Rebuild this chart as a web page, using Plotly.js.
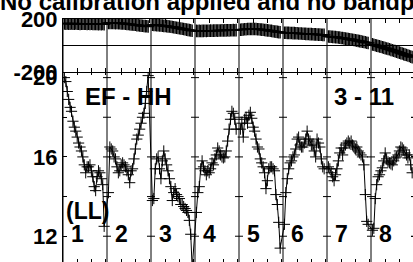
<!DOCTYPE html>
<html><head><meta charset="utf-8">
<script src="https://cdn.plot.ly/plotly-3.0.1.min.js"></script>
<style>
html,body{margin:0;padding:0;overflow:hidden;background:#fff;width:413px;height:262px}
#chart{position:absolute;left:0;top:0}
</style>
</head><body><div id="chart"></div>
<script>
// IF labels and channel layout
const ifLabels = ['1','2','3','4','5','6','7','8'];
const slotWidth = 31;          // channel slots per IF on the x axis
const chanTicks = [10,20,30];  // channel tick marks inside each IF

// Amplitude per IF
const ampIF1 = [20.0,19.8,19.3,18.9,18.5,18.3,17.8,17.5,17.3,17.0,16.7,16.5,16.3,16.0,15.6,15.2,15.5,15.5,15.6,15.3,15.0,14.5,14.3,15.0,15.3,15.2,14.9,14.6,12.5];
const ampIF2 = [14.2,16.5,16.4,16.3,16.0,15.9,15.5,15.2,15.3,15.6,15.7,15.6,15.5,15.3,15.1,14.7,15.3,15.4,15.9,16.4,16.9,17.1,17.4,17.7,18.0,18.2,18.7,19.3,20.1];
const ampIF3 = [13.8,13.9,15.4,15.9,16.0,15.4,14.9,15.8,16.3,15.9,15.6,15.3,14.9,14.5,13.8,14.2,14.4,14.1,14.0,13.9,13.6,13.6,13.5,13.4,13.3,13.2,12.8,12.1,10.4];
const ampIF4 = [13.2,14.2,14.5,15.4,15.8,15.5,15.3,15.1,15.3,15.2,15.4,15.7,15.6,15.9,16.1,16.45,16.3,16.1,16.0,15.95,16.0,16.3,16.8,17.4,17.9,18.3,18.2,17.9,17.4];
const ampIF5 = [17.4,17.7,17.0,17.9,18.0,17.7,18.1,18.25,17.95,17.5,17.3,16.9,16.5,16.4,15.9,15.7,15.5,15.2,14.4,14.8,15.4,15.5,15.5,15.4,15.3,14.1,13.6,12.7,11.4];
const ampIF6 = [12.6,14.2,14.9,15.4,15.7,15.8,16.0,16.1,16.4,16.9,17.0,16.6,16.5,16.5,16.7,16.9,17.3,16.9,16.8,16.6,16.6,16.3,16.0,16.9,16.7,16.5,15.9,15.5,15.4];
const ampIF7 = [15.5,15.4,15.2,15.0,14.8,15.1,15.4,15.8,16.2,16.45,16.1,16.45,16.6,16.7,16.8,16.7,16.8,16.6,16.5,16.4,16.5,16.3,16.2,16.1,16.0,15.6,14.1,12.75,12.6];
const ampIF8 = [12.3,12.4,13.9,14.6,15.0,15.1,15.3,15.45,15.8,16.2,15.9,15.75,15.7,15.65,15.6,15.8,15.95,16.0,16.1,16.3,16.5,16.45,16.35,16.2,16.1,15.95,16.1,15.6,15.2];

// Phase per IF (degrees)
const phaseIF1 = [166,165,167,165,164,166,165,164,166,165,165,163,165,164,164,165,163,164,163,164,162,163,162,163,161,162,161,162,160];
const phaseIF2 = [171,170,171,170,170,169,170,168,168,167,166,166,164,163,162,161,159,158,157,156,154,153,151,150,149,147,146,145,143];
const phaseIF3 = [156,155,155,154,153,152,151,150,148,147,146,144,143,141,140,138,136,134,132,130,128,126,124,122,120,118,116,114,111];
const phaseIF4 = [110,109,110,109,110,110,111,110,111,111,112,111,112,112,113,112,113,113,114,113,114,114,115,114,115,115,116,115,116];
const phaseIF5 = [119,120,121,122,123,124,124,125,125,125,124,124,123,122,121,120,119,117,116,114,113,111,110,108,106,105,103,101,100];
const phaseIF6 = [96,96,95,95,94,94,93,93,92,92,91,90,90,89,89,88,87,87,86,86,85,84,84,83,82,82,81,80,80];
const phaseIF7 = [68,67,66,65,64,63,62,60,59,57,56,54,52,51,49,47,45,43,41,39,37,35,33,31,28,26,24,21,19];
const phaseIF8 = [8,5,2,-1,-4,-7,-10,-13,-16,-20,-23,-26,-29,-33,-36,-40,-43,-47,-50,-54,-58,-61,-65,-69,-72,-76,-80,-84,-88];

const ampTicks = [12,14,16,18,20];
const ampTickText = ['12','','16','','20'];
const phaseTicks = [-200,200];
const phaseTickText = ['-200','200'];

const ampAll = [ampIF1,ampIF2,ampIF3,ampIF4,ampIF5,ampIF6,ampIF7,ampIF8];
const phaseAll = [phaseIF1,phaseIF2,phaseIF3,phaseIF4,phaseIF5,phaseIF6,phaseIF7,phaseIF8];

const FONT = 'Liberation Sans, Arial, Helvetica, sans-serif';

function flatten(series){
  const xs=[], ys=[];
  series.forEach((arr,i)=>arr.forEach((v,c)=>{xs.push(i*slotWidth + c + 1); ys.push(v);}));
  return {xs, ys};
}
const A = flatten(ampAll), P = flatten(phaseAll);
const nIF = ifLabels.length;
const xMax = nIF*slotWidth;

const xTickVals = [];
for (let i=0;i<nIF;i++){ chanTicks.forEach(t=>xTickVals.push(i*slotWidth+t)); }

const ampMarker = {symbol:'cross-thin', size:8, color:'#000', line:{color:'#000', width:1}};
const phaseMarker = {symbol:'cross-thin', size:9, color:'#000', line:{color:'#000', width:1.3}};
const traces = [
  {x:A.xs, y:A.ys, xaxis:'x', yaxis:'y', mode:'lines+markers', line:{color:'#000', width:1}, marker:ampMarker, hoverinfo:'skip'},
  {x:P.xs, y:P.ys, xaxis:'x2', yaxis:'y2', mode:'lines+markers', line:{color:'#000', width:1}, marker:phaseMarker, hoverinfo:'skip'}
];

const shapes = [];
for (let i=0;i<=nIF;i++){
  shapes.push({type:'line', xref:'x', yref:'paper', x0:i*slotWidth, x1:i*slotWidth, y0:0, y1:1, line:{color:'#000', width:1}});
  if (i>0) ampTicks.forEach(v=>shapes.push({type:'line', xref:'x', yref:'y', xsizemode:'pixel', xanchor:i*slotWidth, x0:-4, x1:4, y0:v, y1:v, line:{color:'#000', width:1}}));
}

const annFont = (s)=>({family:FONT, size:s, weight:700, color:'#000'});
const annotations = [
  {text:'EF - HH', xref:'paper', yref:'paper', x:0.186, y:0.682, xanchor:'center', yanchor:'middle', showarrow:false, font:annFont(24)},
  {text:'3 - 11', xref:'paper', yref:'paper', x:0.855, y:0.682, xanchor:'center', yanchor:'middle', showarrow:false, font:annFont(24)},
  {text:'(LL)', xref:'paper', yref:'paper', x:0.0696, y:0.213, xanchor:'center', yanchor:'middle', showarrow:false, font:annFont(23)}
];
ifLabels.forEach((lab,i)=>annotations.push({text:lab, xref:'x', yref:'paper', x:i*slotWidth+10.3, y:0.117, xanchor:'center', yanchor:'middle', showarrow:false, font:annFont(23)}));

const xBase = {range:[0,xMax], showline:true, linecolor:'#000', linewidth:1, mirror:'allticks', ticks:'inside', ticklen:4, tickcolor:'#000', tickwidth:1, tickmode:'array', tickvals:xTickVals, showticklabels:false, showgrid:false, zeroline:false};
const tickFont = {family:FONT, size:22, weight:700, color:'#000'};

const layout = {
  width:420, height:270,
  margin:{l:63, r:5, t:19, b:7, pad:0},
  paper_bgcolor:'#fff', plot_bgcolor:'#fff',
  showlegend:false,
  font:{family:FONT, color:'#000'},
  title:{text:'No calibration applied and no bandpass', font:{family:FONT, size:24, weight:700, color:'#000'}, xref:'container', x:0, xanchor:'left', yref:'container', y:1-2/270, yanchor:'middle', pad:{l:0,r:0,t:0,b:0}},
  xaxis:Object.assign({anchor:'y', domain:[0,1]}, xBase),
  xaxis2:Object.assign({anchor:'y2', domain:[0,1], matches:'x'}, xBase),
  yaxis:{domain:[0,0.785], range:[10.65,20.31], anchor:'x', showline:true, linecolor:'#000', linewidth:1, mirror:'allticks', ticks:'inside', ticklen:4, tickcolor:'#000', tickmode:'array', tickvals:ampTicks, ticktext:ampTickText, tickfont:tickFont, showgrid:false, zeroline:false},
  yaxis2:{domain:[0.783,1], range:[-200,200], anchor:'x2', showline:true, linecolor:'#000', linewidth:1, mirror:'allticks', ticks:'inside', ticklen:4, tickcolor:'#000', tickmode:'array', tickvals:phaseTicks, ticktext:phaseTickText, tickfont:tickFont, showgrid:false, zeroline:true, zerolinecolor:'#000', zerolinewidth:1},
  shapes:shapes,
  annotations:annotations
};

Plotly.newPlot('chart', traces, layout, {staticPlot:true, displayModeBar:false, responsive:false});
</script>
</body></html>
